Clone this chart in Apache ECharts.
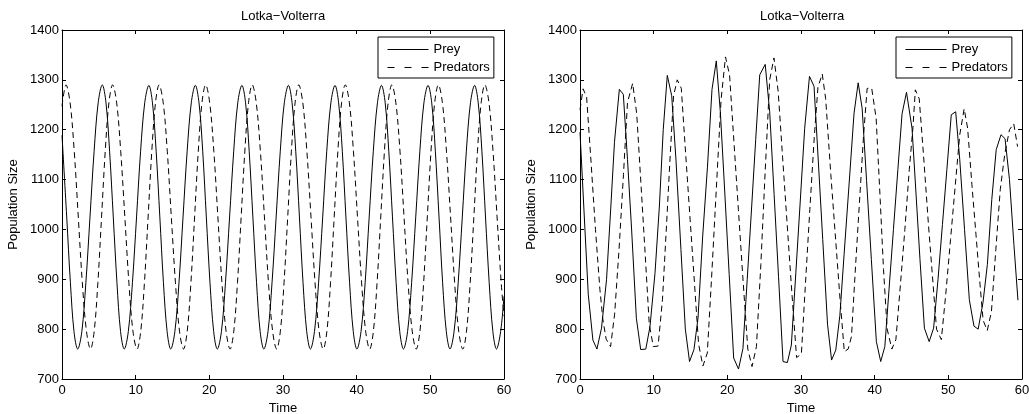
<!DOCTYPE html>
<html>
<head>
<meta charset="utf-8">
<script src="https://cdn.jsdelivr.net/npm/echarts@6/dist/echarts.min.js"></script>
<style>
html, body { margin: 0; padding: 0; background: #fff; }
#chart { width: 1029px; height: 414px; }
</style>
</head>
<body>
<div id="chart"></div>
<script>
// ---- Data ----
const titleText = 'Lotka\u2212Volterra';
const seriesNames = ['Prey', 'Predators'];
const xTicks = [0, 10, 20, 30, 40, 50, 60];
const yTicks = [700, 800, 900, 1000, 1100, 1200, 1300, 1400];

// Left panel: smooth periodic solution
const leftPreyTime = [0, 0.64, 1.14, 1.63,
  2.13, 2.69, 3.24, 3.80, 4.36, 4.91, 5.47, 5.97, 6.46, 6.96, 7.46, 7.95,
  8.45, 9.00, 9.56, 10.12, 10.67, 11.23, 11.79, 12.28, 12.78, 13.28, 13.77, 14.27,
  14.76, 15.32, 15.88, 16.43, 16.99, 17.55, 18.10, 18.60, 19.10, 19.59, 20.09, 20.59,
  21.08, 21.64, 22.19, 22.75, 23.31, 23.86, 24.42, 24.92, 25.41, 25.91, 26.41, 26.90,
  27.40, 27.96, 28.51, 29.07, 29.63, 30.18, 30.74, 31.23, 31.73, 32.23, 32.72, 33.22,
  33.72, 34.27, 34.83, 35.39, 35.94, 36.50, 37.06, 37.55, 38.05, 38.54, 39.04, 39.54,
  40.03, 40.59, 41.15, 41.70, 42.26, 42.82, 43.37, 43.87, 44.36, 44.86, 45.36, 45.85,
  46.35, 46.91, 47.46, 48.02, 48.58, 49.13, 49.69, 50.19, 50.68, 51.18, 51.67, 52.17,
  52.67, 53.22, 53.78, 54.34, 54.89, 55.45, 56.01, 56.50, 57.00, 57.49, 57.99, 58.49,
  58.98, 59.54, 60];
const leftPrey = [1189, 1025, 893, 795,
  760, 795, 893, 1025, 1157, 1254, 1290, 1254, 1157, 1025, 893, 795,
  760, 795, 893, 1025, 1157, 1254, 1289, 1254, 1157, 1025, 893, 795,
  760, 795, 893, 1025, 1157, 1254, 1289, 1254, 1157, 1025, 893, 795,
  760, 795, 893, 1025, 1157, 1254, 1289, 1254, 1157, 1025, 893, 795,
  760, 795, 893, 1025, 1157, 1254, 1289, 1254, 1157, 1025, 893, 795,
  760, 795, 893, 1025, 1157, 1254, 1289, 1254, 1157, 1025, 893, 795,
  760, 795, 893, 1025, 1157, 1254, 1289, 1254, 1157, 1025, 893, 795,
  760, 795, 893, 1025, 1157, 1254, 1289, 1254, 1157, 1025, 893, 795,
  760, 795, 893, 1025, 1157, 1254, 1289, 1254, 1157, 1025, 893, 795,
  760, 795, 866];

const leftPredTime = [0,
  0.55, 1.10, 1.66, 2.21, 2.76, 3.32, 3.87, 4.37, 4.87, 5.37, 5.87, 6.37,
  6.87, 7.42, 7.97, 8.53, 9.08, 9.63, 10.19, 10.69, 11.19, 11.69, 12.19, 12.69,
  13.18, 13.74, 14.29, 14.84, 15.40, 15.95, 16.50, 17.00, 17.50, 18.00, 18.50, 19.00,
  19.50, 20.05, 20.61, 21.16, 21.71, 22.27, 22.82, 23.32, 23.82, 24.32, 24.82, 25.32,
  25.82, 26.37, 26.93, 27.48, 28.03, 28.59, 29.14, 29.64, 30.14, 30.64, 31.14, 31.64,
  32.14, 32.69, 33.24, 33.80, 34.35, 34.90, 35.46, 35.96, 36.45, 36.95, 37.45, 37.95,
  38.45, 39.01, 39.56, 40.11, 40.67, 41.22, 41.77, 42.27, 42.77, 43.27, 43.77, 44.27,
  44.77, 45.32, 45.88, 46.43, 46.98, 47.54, 48.09, 48.59, 49.09, 49.59, 50.09, 50.59,
  51.09, 51.64, 52.19, 52.75, 53.30, 53.85, 54.41, 54.91, 55.41, 55.91, 56.40, 56.90,
  57.40, 57.96, 58.51, 59.06, 59.62, 60];
const leftPred = [1247,
  1290, 1254, 1157, 1025, 893, 796, 760, 796, 893, 1025, 1157, 1254,
  1290, 1254, 1157, 1025, 893, 796, 760, 796, 893, 1025, 1157, 1254,
  1290, 1254, 1157, 1025, 893, 796, 760, 796, 893, 1025, 1157, 1254,
  1290, 1254, 1157, 1025, 893, 796, 760, 796, 893, 1025, 1157, 1254,
  1290, 1254, 1157, 1025, 893, 796, 760, 796, 893, 1025, 1157, 1254,
  1290, 1254, 1157, 1025, 893, 796, 760, 796, 893, 1025, 1157, 1254,
  1290, 1254, 1157, 1025, 893, 796, 760, 796, 893, 1025, 1157, 1254,
  1290, 1254, 1157, 1025, 893, 796, 760, 796, 893, 1025, 1157, 1254,
  1290, 1254, 1157, 1025, 893, 796, 760, 796, 893, 1025, 1157, 1254,
  1290, 1254, 1157, 1025, 893, 826];

// Right panel: coarse-step solution
const rightPreyTime = [0, 0.55, 1.12, 1.75, 2.3, 2.92, 3.6, 4.16, 4.68, 5.34,
  5.88, 6.45, 7.01, 7.65, 8.24, 8.93, 9.5, 10.18, 10.77, 11.3,
  11.85, 12.45, 13.03, 13.7, 14.3, 14.87, 15.47, 16.02, 16.65, 17.3,
  17.92, 18.5, 19.05, 19.65, 20.25, 20.86, 21.52, 22.12, 22.7, 23.3,
  23.85, 24.4, 25.14, 25.75, 26.35, 26.95, 27.56, 28.15, 28.69, 29.3,
  29.85, 30.5, 31.15, 31.77, 32.35, 32.95, 33.6, 34.15, 34.72, 35.28,
  35.85, 36.5, 37.2, 37.76, 38.3, 38.9, 39.55, 40.23, 40.82, 41.38,
  41.95, 42.55, 43.15, 43.72, 44.32, 45.07, 45.6, 46.15, 46.75, 47.4,
  48.0, 48.6, 49.2, 49.8, 50.4, 51.0, 51.55, 52.2, 52.85, 53.48,
  54.05, 54.7, 55.3, 55.9, 56.5, 57.15, 57.7, 58.3, 58.9, 59.45];
const rightPrey = [1195, 1035, 870, 778, 760, 802, 899, 1039, 1175, 1281,
  1271, 1140, 999, 822, 759, 760, 805, 912, 1045, 1200,
  1309, 1268, 1139, 960, 800, 735, 759, 822, 985, 1125,
  1281, 1338, 1236, 1075, 910, 742, 720, 761, 900, 1045,
  1180, 1310, 1331, 1236, 1070, 905, 735, 733, 768, 913,
  1045, 1203, 1307, 1287, 1137, 980, 810, 738, 758, 828,
  950, 1085, 1233, 1294, 1243, 1098, 940, 775, 735, 765,
  880, 1000, 1120, 1232, 1275, 1203, 1075, 940, 802, 775,
  802, 900, 1010, 1120, 1230, 1236, 1140, 1000, 859, 806,
  800, 853, 930, 1060, 1160, 1190, 1182, 1100, 970, 858];

const rightPredTime = [0, 0.42, 0.9, 1.5, 2.1, 2.7, 3.1, 3.55, 4.15, 4.7,
  5.3, 5.9, 6.45, 7.15, 7.7, 8.3, 8.85, 9.4, 9.95, 10.6,
  11.2, 11.75, 12.25, 12.7, 13.2, 13.75, 14.35, 14.95, 15.55, 16.1,
  16.68, 17.28, 17.85, 18.5, 19.15, 19.75, 20.3, 20.9, 21.5, 22.1,
  22.78, 23.35, 23.95, 24.55, 25.15, 25.75, 26.33, 26.9, 27.5, 28.1,
  28.75, 29.4, 30.05, 30.6, 31.2, 31.8, 32.3, 32.88, 33.35, 34.05,
  34.7, 35.3, 35.88, 36.4, 36.85, 37.4, 38.0, 38.5, 38.98, 39.6,
  40.2, 40.75, 41.2, 41.7, 42.33, 42.88, 43.5, 44.1, 44.7, 45.2,
  45.52, 46.05, 46.7, 47.3, 47.85, 48.4, 49.05, 49.65, 50.3, 50.95,
  51.55, 52.15, 52.62, 53.2, 53.75, 54.3, 54.72, 55.28, 55.85, 56.45,
  57.05, 57.65, 58.3, 58.88, 59.4];
const rightPred = [1240, 1282, 1265, 1135, 1000, 880, 820, 780, 765, 830,
  960, 1110, 1255, 1293, 1232, 1085, 950, 810, 765, 766,
  860, 1010, 1150, 1268, 1300, 1283, 1150, 1020, 890, 770,
  726, 752, 900, 1080, 1260, 1346, 1310, 1175, 1040, 905,
  760, 725, 765, 930, 1120, 1300, 1344, 1277, 1145, 1015,
  875, 743, 750, 890, 1040, 1185, 1285, 1312, 1262, 1110,
  980, 860, 755, 760, 785, 925, 1070, 1190, 1283, 1283,
  1223, 1060, 920, 800, 760, 779, 890, 1000, 1120, 1205,
  1280, 1262, 1135, 1010, 905, 800, 779, 870, 980, 1090,
  1190, 1242, 1203, 1090, 990, 890, 818, 797, 835, 960,
  1080, 1150, 1200, 1212, 1166];

// ---- Chart ----
const FONT = '"Liberation Sans", Arial, Helvetica, sans-serif';
const zip = (a, b) => a.map((t, i) => [t, b[i]]);
const DASH = [6, 4];

const grids = [
  { left: 62, top: 30, width: 442, height: 349, outerBoundsMode: 'none', containLabel: false },
  { left: 580, top: 30, width: 442, height: 349, outerBoundsMode: 'none', containLabel: false }
];

function baseAxis() {
  return {
    type: 'value',
    axisLine: { show: true, onZero: false, lineStyle: { color: '#000', width: 1 } },
    axisTick: { show: true, inside: true, length: 4, lineStyle: { color: '#000', width: 1 } },
    splitLine: { show: false },
    minorTick: { show: false },
  };
}
function xAxisFor(gridIndex, position, labels) {
  return Object.assign(baseAxis(), {
    gridIndex, position,
    min: xTicks[0], max: xTicks[xTicks.length - 1], interval: xTicks[1] - xTicks[0],
    axisLabel: { show: labels, margin: 5, fontSize: 13, color: '#000', fontFamily: FONT,
      showMinLabel: true, showMaxLabel: true, hideOverlap: false,
      formatter: v => String(v) },
    name: labels ? 'Time' : '', nameLocation: 'middle', nameGap: 20,
    nameTextStyle: { fontSize: 13, color: '#000', fontFamily: FONT }
  });
}
function yAxisFor(gridIndex, position, labels) {
  return Object.assign(baseAxis(), {
    gridIndex, position,
    min: yTicks[0], max: yTicks[yTicks.length - 1], interval: yTicks[1] - yTicks[0],
    axisLabel: { show: labels, margin: 3, fontSize: 13, color: '#000', fontFamily: FONT,
      showMinLabel: true, showMaxLabel: true, hideOverlap: false,
      formatter: v => String(v) },
    name: labels ? 'Population Size' : '', nameLocation: 'middle', nameGap: 42, nameRotate: 90,
    nameTextStyle: { fontSize: 13, color: '#000', fontFamily: FONT }
  });
}

function legendFor(left) {
  return {
    orient: 'vertical', left: left, top: 37,
    padding: [6, 4, 4, 9], itemGap: 5, itemWidth: 41, itemHeight: 14,
    backgroundColor: '#fff', borderColor: '#000', borderWidth: 1, borderRadius: 0,
    selectedMode: false,
    itemStyle: { opacity: 0 },
    lineStyle: { width: 1, color: '#000' },
    textStyle: { fontSize: 13, color: '#000', fontFamily: FONT },
    data: [
      { name: seriesNames[0], lineStyle: { width: 1, type: 'solid' } },
      { name: seriesNames[1], lineStyle: { width: 1, type: [7, 10] } }
    ]
  };
}

function lineSeries(name, xi, data, dashed, smooth) {
  return {
    name, type: 'line', xAxisIndex: xi, yAxisIndex: xi, data,
    symbol: 'none', showSymbol: false, smooth: smooth, silent: true,
    lineStyle: { color: '#000', width: 1, type: dashed ? DASH : 'solid' },
    itemStyle: { color: '#000' },
    z: dashed ? 3 : 4
  };
}

const option = {
  animation: false,
  backgroundColor: '#fff',
  textStyle: { fontFamily: FONT },
  title: [
    { text: titleText, left: 241, top: 10, padding: 0,
      textStyle: { fontSize: 13, fontWeight: 'normal', color: '#000', fontFamily: FONT } },
    { text: titleText, left: 760, top: 10, padding: 0,
      textStyle: { fontSize: 13, fontWeight: 'normal', color: '#000', fontFamily: FONT } }
  ],
  legend: [legendFor(378), legendFor(896)],
  grid: grids,
  xAxis: [xAxisFor(0, 'bottom', true), xAxisFor(0, 'top', false),
          xAxisFor(1, 'bottom', true), xAxisFor(1, 'top', false)],
  yAxis: [yAxisFor(0, 'left', true), yAxisFor(0, 'right', false),
          yAxisFor(1, 'left', true), yAxisFor(1, 'right', false)],
  series: [
    lineSeries(seriesNames[0], 0, zip(leftPreyTime, leftPrey), false, 0.35),
    lineSeries(seriesNames[1], 0, zip(leftPredTime, leftPred), true, 0.35),
    lineSeries(seriesNames[0], 2, zip(rightPreyTime, rightPrey), false, false),
    lineSeries(seriesNames[1], 2, zip(rightPredTime, rightPred), true, false)
  ]
};

const chart = echarts.init(document.getElementById('chart'), null, { renderer: 'canvas', width: 1029, height: 414 });
chart.setOption(option);
</script>
</body>
</html>
